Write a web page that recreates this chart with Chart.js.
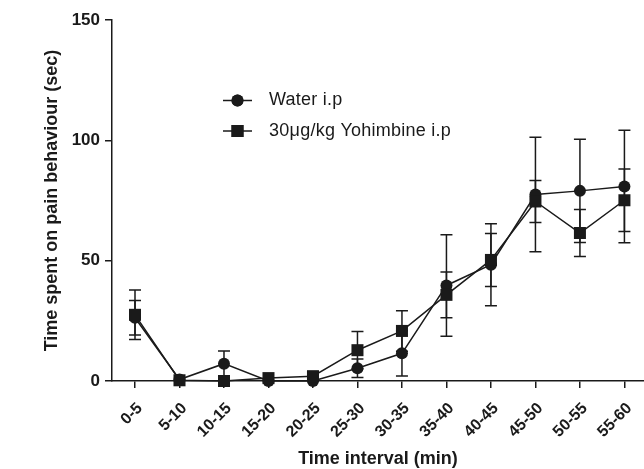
<!DOCTYPE html>
<html>
<head>
<meta charset="utf-8">
<script src="https://cdn.jsdelivr.net/npm/chart.js@4/dist/chart.umd.min.js"></script>
<style>
  html, body { margin: 0; padding: 0; background: #fff; }
  canvas { display: block; }
</style>
</head>
<body>
<canvas id="painChart" width="644" height="469"></canvas>
<script>
// data (mean and SEM, seconds)
const categories = ["0-5", "5-10", "10-15", "15-20", "20-25", "25-30", "30-35", "35-40", "40-45", "45-50", "50-55", "55-60"];
const waterMean = [26.3, 0.6, 7.2, 0, 0, 5.3, 11.5, 39.7, 48.3, 77.5, 79, 80.8];
const waterSem = [7.2, 0, 5.3, 0, 0, 3.8, 9.4, 21.1, 17, 23.8, 21.4, 23.4];
const yohMean = [27.5, 0.3, 0, 1.2, 2, 12.8, 20.8, 35.8, 50.3, 74.6, 61.5, 75.1];
const yohSem = [10.3, 0, 0, 0, 0, 7.8, 8.4, 9.5, 11, 8.7, 9.8, 13];
const yTicks = [0, 50, 100, 150];

const ink = "#1a1a1a";
const fontFamily = "'Liberation Sans', Arial, sans-serif";

// error bars with caps
const errorBars = {
  id: "errorBars",
  beforeDatasetsDraw(chart) {
    const { ctx, scales: { x, y } } = chart;
    ctx.save();
    ctx.strokeStyle = ink;
    ctx.lineWidth = 1.5;
    chart.data.datasets.forEach((ds) => {
      ds.data.forEach((pt, i) => {
        const sem = ds.sem[i];
        if (!sem) return;
        const px = x.getPixelForValue(pt.x);
        const top = y.getPixelForValue(pt.y + sem);
        const bot = y.getPixelForValue(Math.max(pt.y - sem, 0));
        ctx.beginPath();
        ctx.moveTo(px, top);
        ctx.lineTo(px, bot);
        ctx.moveTo(px - 6, top);
        ctx.lineTo(px + 6, top);
        ctx.moveTo(px - 6, bot);
        ctx.lineTo(px + 6, bot);
        ctx.stroke();
      });
    });
    ctx.restore();
  },
};

// legend inside the plot, drawn like the prism one
const insideLegend = {
  id: "insideLegend",
  afterDraw(chart, args, opts) {
    const { ctx } = chart;
    ctx.save();
    ctx.font = `${opts.fontSize}px ${fontFamily}`;
    ctx.letterSpacing = "0.25px";
    ctx.textBaseline = "middle";
    ctx.fillStyle = ink;
    [...chart.data.datasets]
      .sort((a, b) => a.legendIndex - b.legendIndex)
      .forEach((ds, k) => {
        const ly = opts.y + k * opts.gap;
        ctx.strokeStyle = ink;
        ctx.lineWidth = 1.5;
        ctx.beginPath();
        ctx.moveTo(opts.x, ly);
        ctx.lineTo(opts.x + 29, ly);
        ctx.stroke();
        Chart.helpers.drawPoint(ctx, {
          pointStyle: ds.pointStyle,
          radius: ds.pointRadius,
          borderWidth: 0,
          rotation: 0,
        }, opts.x + 14.5, ly);
        ctx.fill();
        ctx.fillText(ds.label, opts.x + 46, ly);
      });
    ctx.restore();
  },
};

const config = {
  type: "line",
  data: {
    datasets: [
      {
        label: "Water i.p",
        legendIndex: 0,
        data: waterMean,
        sem: waterSem,
        pointStyle: "circle",
        pointRadius: 6,
        order: 1,
      },
      {
        label: "30μg/kg Yohimbine i.p",
        legendIndex: 1,
        data: yohMean,
        sem: yohSem,
        pointStyle: "rect",
        pointRadius: 8.5,
        order: 0,
      },
    ].map((ds) => ({
      ...ds,
      data: ds.data.map((v, i) => ({ x: i, y: v })),
      borderColor: ink,
      backgroundColor: ink,
      pointBackgroundColor: ink,
      pointBorderWidth: 0,
      borderWidth: 1.5,
      tension: 0,
      clip: false,
    })),
  },
  options: {
    responsive: false,
    animation: false,
    devicePixelRatio: 1,
    layout: { autoPadding: false, padding: { top: 20, right: 0, bottom: 0, left: 0 } },
    plugins: {
      legend: { display: false },
      tooltip: { enabled: false },
      insideLegend: { x: 223, y: 100.5, gap: 30.5, fontSize: 18 },
    },
    scales: {
      x: {
        type: "linear",
        min: -0.517,
        max: 11.44,
        afterBuildTicks: (s) => {
          s.ticks = categories.map((c, i) => ({ value: i }));
        },
        afterFit: (s) => {
          s.height = 88;
          s.paddingLeft = 0;
          s.paddingRight = 0;
        },
        ticks: {
          callback: (v) => categories[v] ?? "",
          autoSkip: false,
          minRotation: 45,
          maxRotation: 45,
          padding: 11,
          labelOffset: 5,
          color: ink,
          font: { family: fontFamily, size: 16, weight: "bold" },
        },
        grid: { drawOnChartArea: false, drawTicks: true, tickLength: 7, color: ink, lineWidth: 1.5 },
        border: { color: ink, width: 1.5 },
        title: {
          display: true,
          text: "Time interval (min)",
          color: ink,
          padding: { top: 0, bottom: 0 },
          font: { family: fontFamily, size: 18, weight: "bold", lineHeight: 1.1 },
        },
      },
      y: {
        min: 0,
        max: 150,
        afterBuildTicks: (s) => {
          s.ticks = yTicks.map((v) => ({ value: v }));
        },
        afterFit: (s) => {
          s.width = 112;
        },
        ticks: {
          padding: 5,
          color: ink,
          font: { family: fontFamily, size: 17, weight: "bold" },
        },
        grid: { drawOnChartArea: false, drawTicks: true, tickLength: 7, color: ink, lineWidth: 1.5 },
        border: { color: ink, width: 1.5 },
        title: {
          display: true,
          text: "Time spent on pain behaviour (sec)",
          color: ink,
          padding: { top: 41, bottom: 0 },
          font: { family: fontFamily, size: 18, weight: "bold" },
        },
      },
    },
  },
  plugins: [errorBars, insideLegend],
};

const painChart = new Chart(document.getElementById("painChart"), config);
</script>
</body>
</html>
